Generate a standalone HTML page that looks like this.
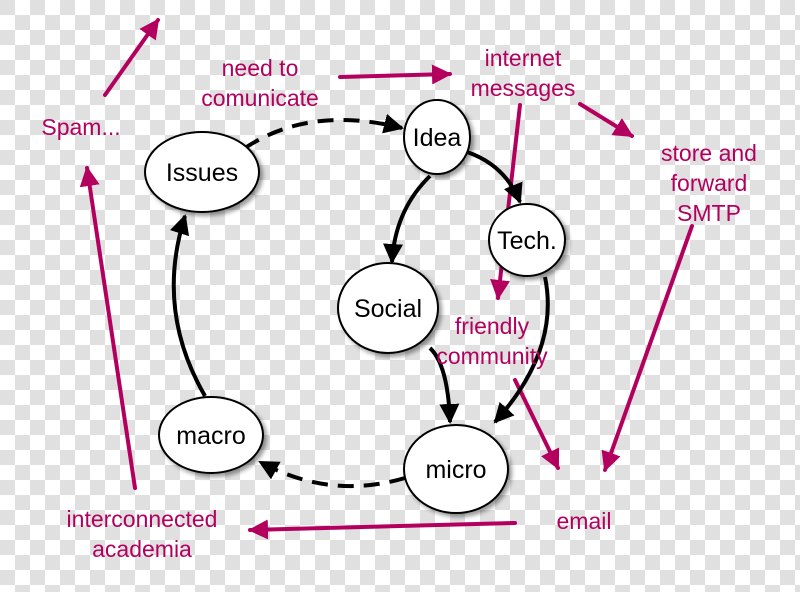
<!DOCTYPE html>
<html><head><style>
html,body{margin:0;padding:0}
body{width:800px;height:592px;overflow:hidden;
background-color:#fff;
background-image:conic-gradient(#fff 0 25%,#e0e0e0 0 50%,#fff 0 75%,#e0e0e0 0);
background-size:30px 30px;}
svg{position:absolute;left:0;top:0}
.m{fill:#b3005f;font-family:"Liberation Sans",sans-serif;font-size:23px}
.b{fill:#000;font-family:"Liberation Sans",sans-serif;font-size:25px}
</style></head><body>
<svg width="800" height="592" viewBox="0 0 800 592">
<defs>
<marker id="ka" viewBox="0 0 10 10" refX="9" refY="5" markerWidth="5" markerHeight="5" orient="auto"><path d="M0,0L10,5L0,10z" fill="#000"/></marker>
<marker id="ma" viewBox="0 0 10 10" refX="9" refY="5" markerWidth="5" markerHeight="5" orient="auto"><path d="M0,0L10,5L0,10z" fill="#b3005f"/></marker>
<filter id="sh"><feDropShadow dx="3" dy="3" stdDeviation="2" flood-opacity="0.4"/></filter>
</defs>
<g stroke="#b3005f" stroke-width="4" fill="none" stroke-linecap="round" marker-end="url(#ma)">
<line x1="105" y1="95" x2="158" y2="20"/>
<line x1="340" y1="77" x2="450" y2="74"/>
<line x1="580" y1="104" x2="632" y2="136"/>
<line x1="520" y1="105" x2="498" y2="298"/>
<line x1="692" y1="226" x2="605" y2="470"/>
<line x1="515" y1="380" x2="558" y2="468"/>
<line x1="515" y1="523" x2="250" y2="530"/>
<line x1="135" y1="488" x2="87" y2="168"/>
</g>
<g stroke="#000" stroke-width="4" fill="none" marker-end="url(#ka)">
<path d="M245,148 Q310,105 402,128" stroke-dasharray="16,10"/>
<path d="M467,152 Q505,165 520,202"/>
<path d="M430,176 Q395,210 392,262"/>
<path d="M545,277 Q560,350 495,422"/>
<path d="M430,348 Q448,365 450,422"/>
<path d="M405,478 Q330,500 260,462" stroke-dasharray="16,10"/>
<path d="M205,396 Q155,310 185,216"/>
</g>
<g fill="#fff" stroke="#000" stroke-width="2" filter="url(#sh)">
<ellipse cx="202" cy="172" rx="57" ry="40"/>
<ellipse cx="437" cy="137" rx="33" ry="37"/>
<ellipse cx="527" cy="240" rx="38" ry="36"/>
<ellipse cx="388" cy="308" rx="50" ry="45"/>
<ellipse cx="211" cy="435" rx="52" ry="38"/>
<ellipse cx="456" cy="469" rx="52" ry="44"/>
</g>
<g class="b" text-anchor="middle">
<text x="202" y="181">Issues</text>
<text x="437" y="146">Idea</text>
<text x="527" y="249">Tech.</text>
<text x="388" y="317">Social</text>
<text x="211" y="444">macro</text>
<text x="456" y="478">micro</text>
</g>
<g class="m" text-anchor="middle">
<text x="81" y="135">Spam...</text>
<text x="260" y="76">need to</text>
<text x="260" y="106">comunicate</text>
<text x="523" y="66">internet</text>
<text x="523" y="96">messages</text>
<text x="709" y="161">store and</text>
<text x="709" y="191">forward</text>
<text x="709" y="221">SMTP</text>
<text x="492" y="334">friendly</text>
<text x="492" y="364">community</text>
<text x="584" y="529">email</text>
<text x="142" y="527">interconnected</text>
<text x="142" y="557">academia</text>
</g>
</svg>
</body></html>
